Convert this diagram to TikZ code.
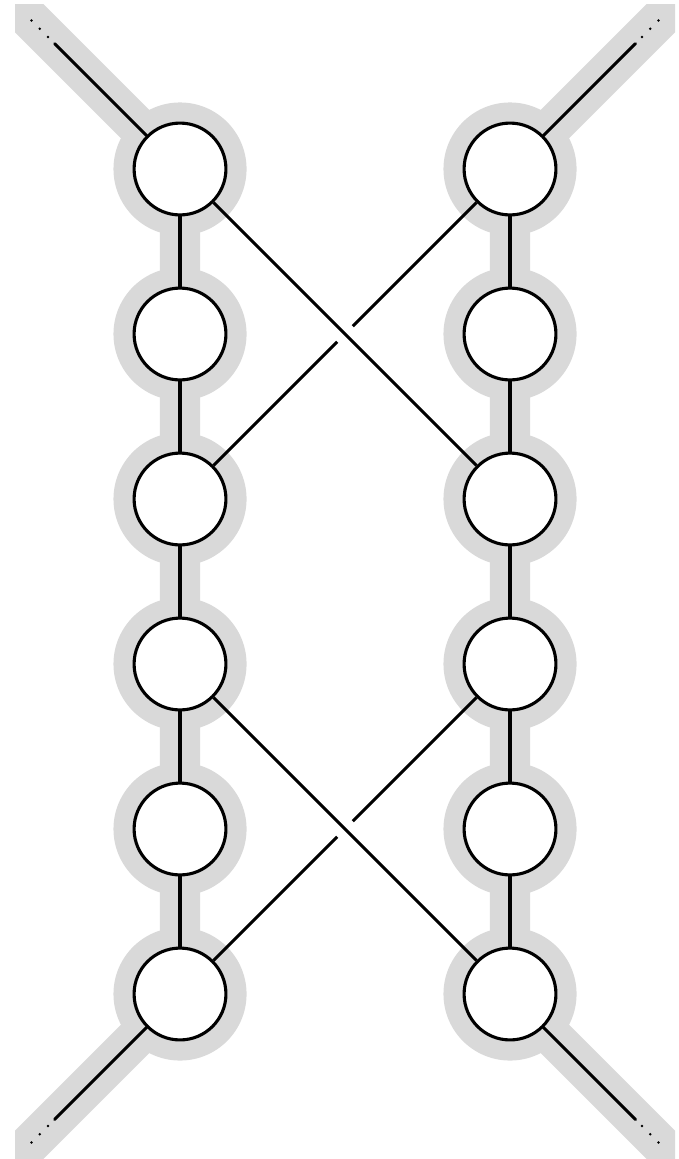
\documentclass[tikz,border=0pt]{standalone}
\usepackage{tikz}
\usetikzlibrary{positioning,calc,backgrounds}

\tikzset{
  site/.style={circle,draw,fill=white,line width=1.6pt,minimum size=1.67cm,inner sep=0pt},
  wire/.style={line width=1.6pt},
  halo/.style={fill=black!15},
  band/.style={draw=black!15,line width=0.73cm},
}

\begin{document}
\begin{tikzpicture}[node distance=3cm and 6cm,on grid]
\useasboundingbox (-3.273,3.073) rectangle (9.055,-18);
\node[site] (l1) at (0,0) {};
\node[site,right=of l1] (r1) {};
\foreach \i [count=\j from 2] in {1,...,5} {
  \node[site,below=of l\i] (l\j) {};
  \node[site,below=of r\i] (r\j) {};
}
\coordinate (tl) at ($(l1)+(-3,3)$);
\coordinate (tr) at ($(r1)+(3,3)$);
\coordinate (bl) at ($(l6)+(-3,-3)$);
\coordinate (br) at ($(r6)+(3,-3)$);
% grey halo behind the two chains
\begin{scope}[on background layer]
\clip (tl) rectangle (br);
\draw[band] (tl) -- (l1.center) -- (l6.center) -- (bl);
\draw[band] (tr) -- (r1.center) -- (r6.center) -- (br);
\foreach \c in {l,r}
  \foreach \i in {1,...,6}
    \fill[halo] (\c\i) circle (1.21cm);
\end{scope}
\foreach \i [count=\j from 2] in {1,...,5} {
  \draw[wire] (l\i) -- (l\j);
  \draw[wire] (r\i) -- (r\j);
}
% crossings
\coordinate (x1) at ($(l1)!0.5!(r3)$);
\coordinate (x2) at ($(l4)!0.5!(r6)$);
\draw[wire] (l1) -- (r3);
\draw[wire] (r1) -- ($(x1)!0.2cm!(r1)$);
\draw[wire] ($(x1)!0.2cm!(l3)$) -- (l3);
\draw[wire] (l4) -- (r6);
\draw[wire] (r4) -- ($(x2)!0.2cm!(r4)$);
\draw[wire] ($(x2)!0.2cm!(l6)$) -- (l6);
% open ends
\foreach \n/\c in {l1/tl,r1/tr,l6/bl,r6/br} {
  \draw[wire,line cap=round] (\n) -- ($(\n.center)!0.76!(\c)$);
  \foreach \t in {0.80,0.85,0.90}
    \fill ($(\n.center)!\t!(\c)$) circle (0.75pt);
}
\end{tikzpicture}
\end{document}
